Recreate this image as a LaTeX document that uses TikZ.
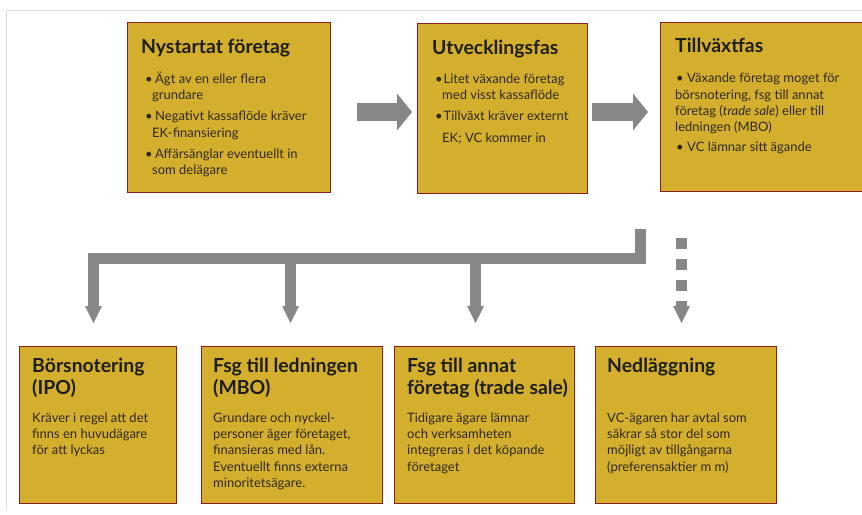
\documentclass[tikz,border=0pt]{standalone}
\usepackage{fontspec}
\setmainfont{Lato}
\usetikzlibrary{arrows.meta}
\definecolor{boxfill}{RGB}{212,175,46}
\definecolor{boxline}{RGB}{139,30,30}
\definecolor{arrowgray}{RGB}{135,135,135}
\definecolor{framegray}{RGB}{220,220,220}
\definecolor{titlecol}{RGB}{30,30,30}
\definecolor{bodycol}{RGB}{48,42,30}
\newcommand\fls{\rule{0pt}{13pt}}
\newcommand\tls{\rule{0pt}{16pt}}
\newcommand\bul[1]{\makebox[#1][l]{\textbullet}}
\begin{document}
\begin{tikzpicture}[x=1pt,y=-1pt,
  stagebox/.style 2 args={draw=boxline, line width=0.9pt, fill=boxfill, anchor=north west,
    inner sep=0pt, outer sep=0pt, minimum width=#1, minimum height=#2},
  titletext/.style={anchor=north west, inner sep=0pt, align=left, text=titlecol,
    font=\fontsize{19.4}{22}\selectfont\bfseries},
  bodytext/.style={anchor=north west, inner sep=0pt, align=left, text=bodycol,
    font=\fontsize{13}{16.3}\selectfont},
  blockarrow/.style={draw=arrowgray, line width=18.5pt,
    -{Triangle[width=37pt 0 0, length=15pt 0 0, line width=0pt]}},
  tree/.style={draw=arrowgray, line width=11pt, line join=miter,
    -{Triangle[width=17pt 0 0, length=17pt 0 0, line width=0pt]}}
]
\useasboundingbox (0,0) rectangle (862,514);
% frame
\coordinate (fa) at (6,510);
\coordinate (fb) at (6,10.5);
\coordinate (fc) at (870,10.5);
\draw[framegray, line width=1pt] (fa) -- (fb) -- (fc);

% top boxes
\node[stagebox={203}{170}] (b1) at (127,22) {};
\node[stagebox={170}{170}] (b2) at (417,23) {};
\node[stagebox={206}{169}] (b3) at (660,22) {};

\node[titletext] (t1) at (141,37) {\tls Nystartat företag};
\node[titletext] (t2) at (432,38) {\tls Utvecklingsfas};
\node[titletext] (t3) at (675,36.5) {\tls Tillväxtfas};

\node[bodytext] (x1) at (145,70) {\fls\bul{10pt}Ägt av en eller flera\\\hspace*{7pt}grundare\\[5pt]
  \bul{10pt}Negativt kassaflöde kräver\\\hspace*{7pt}EK-finansiering\\[5pt]
  \bul{10pt}Affärsänglar eventuellt in\\\hspace*{7pt}som delägare};
\node[bodytext] (x2) at (435,70) {\fls\bul{8.5pt}Litet växande företag\\\hspace*{7pt}med visst kassaflöde\\[5pt]
  \bul{8.5pt}Tillväxt kräver externt\\[5pt]\hspace*{7pt}EK; VC kommer in};
\node[bodytext] (x3) at (676,69.5) {\fls\bul{11pt}Växande företag moget för\\\hspace*{-1pt}börsnotering, fsg till annat\\
  \hspace*{-1pt}företag (\textit{trade sale}) eller till\\\hspace*{-1pt}ledningen (MBO)\\[4pt]
  \bul{11pt}VC lämnar sitt ägande};

% bottom boxes
\node[stagebox={157}{157}] (b4) at (19,346) {};
\node[stagebox={181}{157}] (b5) at (201,346) {};
\node[stagebox={180}{157}] (b6) at (394,346) {};
\node[stagebox={181}{157}] (b7) at (595,346) {};

\node[titletext] (t4) at (32,356) {\tls Börsnotering\\(IPO)};
\node[titletext] (t5) at (213,356) {\tls Fsg till ledningen\\(MBO)};
\node[titletext] (t6) at (407,356) {\tls Fsg till annat\\företag (trade sale)};
\node[titletext] (t7) at (607,356) {\tls Nedläggning};

\node[bodytext] (x4) at (32,409) {\fls Kräver i regel att det\\finns en huvudägare\\för att lyckas};
\node[bodytext] (x5) at (213,409) {\fls Grundare och nyckel-\\personer äger företaget,\\finansieras med lån.\\Eventuellt finns externa\\minoritetsägare.};
\node[bodytext] (x6) at (407,409) {\fls Tidigare ägare lämnar\\och verksamheten\\integreras i det köpande\\företaget};
\node[bodytext] (x7) at (607,409) {\fls VC-ägaren har avtal som\\säkrar så stor del som\\möjligt av tillgångarna\\(preferensaktier m m)};

% block arrows between stages
\coordinate (r1s) at (357,112);
\coordinate (r1e) at (412,112);
\coordinate (r2s) at (592,112);
\coordinate (r2e) at (648,112);
\draw[blockarrow] (r1s) -- (r1e);
\draw[blockarrow] (r2s) -- (r2e);

% branching tree
\coordinate (stub) at (640.5,229);
\coordinate (j) at (640.5,258.5);
\coordinate (d1) at (93.5,323);
\coordinate (d2) at (290.5,323);
\coordinate (d3) at (475.5,323);
\coordinate (d4) at (681.5,323);
\coordinate (ds) at (681.5,238);
\draw[tree] (stub) -- (j) -| (d1);
\draw[tree] (d2 |- j) -- (d2);
\draw[tree] (d3 |- j) -- (d3);
\draw[tree, dash pattern=on 10.5pt off 10.5pt] (ds) -- (d4);
\end{tikzpicture}
\end{document}
